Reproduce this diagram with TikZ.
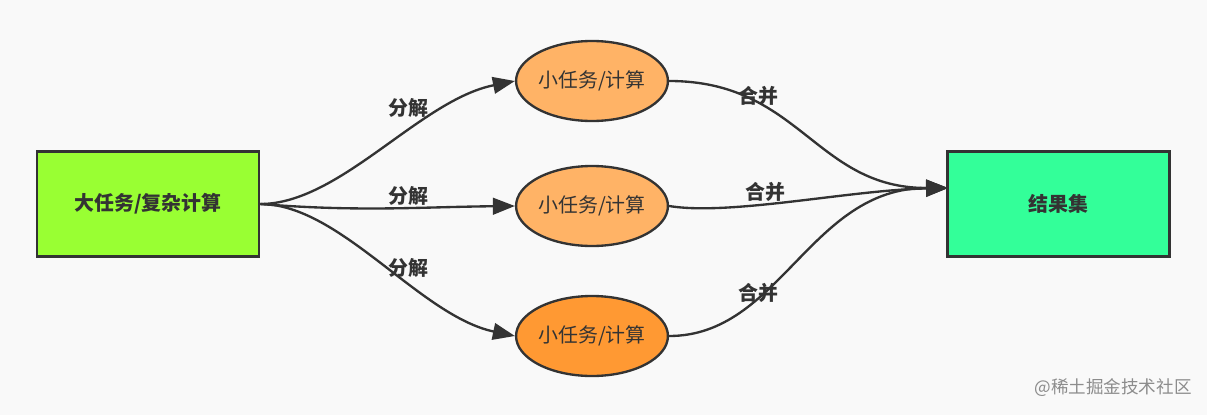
\documentclass[tikz,border=0pt]{standalone}
\usepackage{fontspec}
\setmainfont{Noto Sans CJK SC}
\usepackage{xcolor}
\usepackage{tikz}
\usetikzlibrary{shapes,shapes.geometric,arrows,arrows.meta,positioning,calc}

\definecolor{bgcol}{HTML}{F9F9F9}
\definecolor{linecol}{HTML}{333333}
\definecolor{taskcol}{HTML}{99FF33}
\definecolor{rescol}{HTML}{33FF99}
\definecolor{subcol}{HTML}{FFB366}
\definecolor{subdark}{HTML}{FF9933}

\begin{document}
\begin{tikzpicture}[
    x=0.03cm, y=-0.03cm,
    font=\fontsize{17}{19}\selectfont,
    bigbox/.style={rectangle, draw=linecol, line width=2.2pt, minimum width=6.66cm, minimum height=3.15cm, text=linecol, font=\fontsize{17}{19}\selectfont\bfseries},
    subtask/.style={ellipse, draw=linecol, line width=2pt, fill=subcol, minimum width=4.5cm, minimum height=2.4cm, inner sep=0pt, text=linecol},
    lbl/.style={text=linecol, font=\fontsize{17}{19}\selectfont\bfseries, inner sep=1pt},
    conn/.style={draw=linecol, line width=2pt, -{Triangle[length=0.66cm, width=0.5cm]}}
]
    % canvas
    \fill[bgcol] (0,0) rectangle (1207,415);

    % big task and result
    \node[bigbox, fill=taskcol] (task) at (148,204) {大任务/复杂计算};
    \node[bigbox, fill=rescol] (res) at (1058.5,204) {结果集};
    \coordinate (merge) at (948,188);

    % small tasks
    \node[subtask] (s1) at (592,81) {小任务/计算};
    \node[subtask] (s2) at (592,206) {小任务/计算};
    \node[subtask, fill=subdark] (s3) at (592,336) {小任务/计算};

    % split
    \draw[conn] (task.east) .. controls (340,204) and (420,100) .. (s1.west);
    \draw[conn] (task.east) .. controls (360,212) and (420,207) .. (s2.west);
    \draw[conn] (task.east) .. controls (340,204) and (420,316) .. (s3.west);
    \node[lbl] (d1) at (408,108) {分解};
    \node[lbl] (d2) at (408,196) {分解};
    \node[lbl] (d3) at (408,268) {分解};

    % merge
    \draw[conn] (s1.east) .. controls (800,81) and (815,188) .. (merge);
    \draw[conn] (s2.east) .. controls (730,216) and (850,190) .. (merge);
    \draw[conn] (s3.east) .. controls (780,336) and (810,188) .. (merge);
    \node[lbl] (m1) at (758,96) {合并};
    \node[lbl] (m2) at (765,192) {合并};
    \node[lbl] (m3) at (758,293) {合并};

    % watermark
    \node[text=black!45, font=\fontsize{15}{17}\selectfont] (wm) at (1113,388) {@稀土掘金技术社区};
\end{tikzpicture}
\end{document}
